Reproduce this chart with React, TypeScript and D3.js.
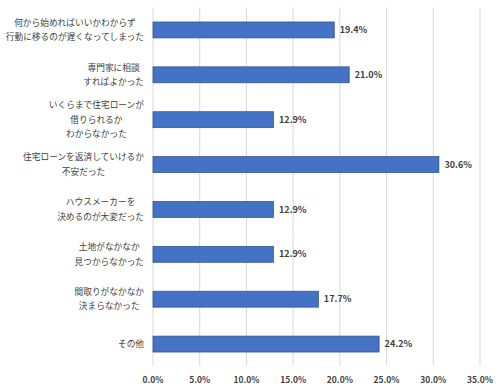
import { useEffect, useRef } from 'react'
import * as d3 from 'd3'

const categories = [
  ['何から始めればいいかわからず', '行動に移るのが遅くなってしまった'],
  ['専門家に相談', 'すればよかった'],
  ['いくらまで住宅ローンが', '借りられるか', 'わからなかった'],
  ['住宅ローンを返済していけるか', '不安だった'],
  ['ハウスメーカーを', '決めるのが大変だった'],
  ['土地がなかなか', '見つからなかった'],
  ['間取りがなかなか', '決まらなかった'],
  ['その他'],
]
const values = [19.4, 21.0, 12.9, 30.6, 12.9, 12.9, 17.7, 24.2]
const ticks = [0, 5, 10, 15, 20, 25, 30, 35]

export default function App() {
  const ref = useRef<SVGSVGElement>(null)

  useEffect(() => {
    const width = 500,
      height = 391
    const margin = { top: 7.5, right: 20, bottom: 25, left: 153 }
    const font = '"Noto Sans CJK JP", "Noto Sans", sans-serif'

    const svg = d3.select(ref.current)
    svg.selectAll('*').remove()

    const x = d3.scaleLinear().domain([0, 35]).range([margin.left, 480])
    const y = d3
      .scaleBand()
      .domain(categories.map((d, i) => String(i)))
      .range([margin.top, 366.5])
      .paddingInner(0.645)
      .paddingOuter(0.3225)

    // gridlines
    svg
      .append('g')
      .selectAll('line')
      .data(ticks)
      .enter()
      .append('line')
      .attr('x1', (d) => x(d))
      .attr('x2', (d) => x(d))
      .attr('y1', margin.top)
      .attr('y2', 365.5)
      .attr('stroke', '#d9d9d9')
      .attr('stroke-width', 1)

    // bars
    svg
      .append('g')
      .selectAll('rect')
      .data(values)
      .enter()
      .append('rect')
      .attr('x', x(0))
      .attr('y', (d, i) => y(String(i))!)
      .attr('width', (d) => x(d) - x(0))
      .attr('height', y.bandwidth())
      .attr('fill', '#4472c4')
      .attr('stroke', '#2f528f')
      .attr('stroke-width', 0.75)

    // value labels
    svg
      .append('g')
      .selectAll('text')
      .data(values)
      .enter()
      .append('text')
      .attr('x', (d) => x(d) + 5.5)
      .attr('y', (d, i) => y(String(i))! + y.bandwidth() / 2)
      .attr('dy', '0.35em')
      .attr('font-family', font)
      .attr('font-size', 9)
      .attr('font-weight', 'bold')
      .attr('fill', '#404040')
      .text((d) => d.toFixed(1) + '%')

    // category labels: lines centred within a block that is right-aligned
    const lineH = 14.5
    categories.forEach((lines, i) => {
      const cy = y(String(i))! + y.bandwidth() / 2
      const g = svg.append('g')
      const texts = g
        .selectAll('text')
        .data(lines)
        .enter()
        .append('text')
        .attr('y', (d, j) => cy + (j - (lines.length - 1) / 2) * lineH)
        .attr('dy', '0.35em')
        .attr('font-family', font)
        .attr('font-size', 8.7)
        .attr('fill', '#404040')
        .attr('text-anchor', 'middle')
        .text((d) => d)
      let maxW = 0
      texts.each(function () {
        maxW = Math.max(maxW, (this as SVGTextElement).getComputedTextLength())
      })
      texts.attr('x', 144 - maxW / 2)
    })

    // x axis tick labels
    svg
      .append('g')
      .selectAll('text')
      .data(ticks)
      .enter()
      .append('text')
      .attr('x', (d) => x(d))
      .attr('y', 380)
      .attr('dy', '0.35em')
      .attr('text-anchor', 'middle')
      .attr('font-family', font)
      .attr('font-size', 8.5)
      .attr('font-weight', 'bold')
      .attr('fill', '#404040')
      .text((d) => d.toFixed(1) + '%')
  }, [])

  return (
    <svg
      ref={ref}
      width={500}
      height={391}
      style={{ position: 'absolute', left: 0, top: 0, background: '#fff' }}
    />
  )
}
